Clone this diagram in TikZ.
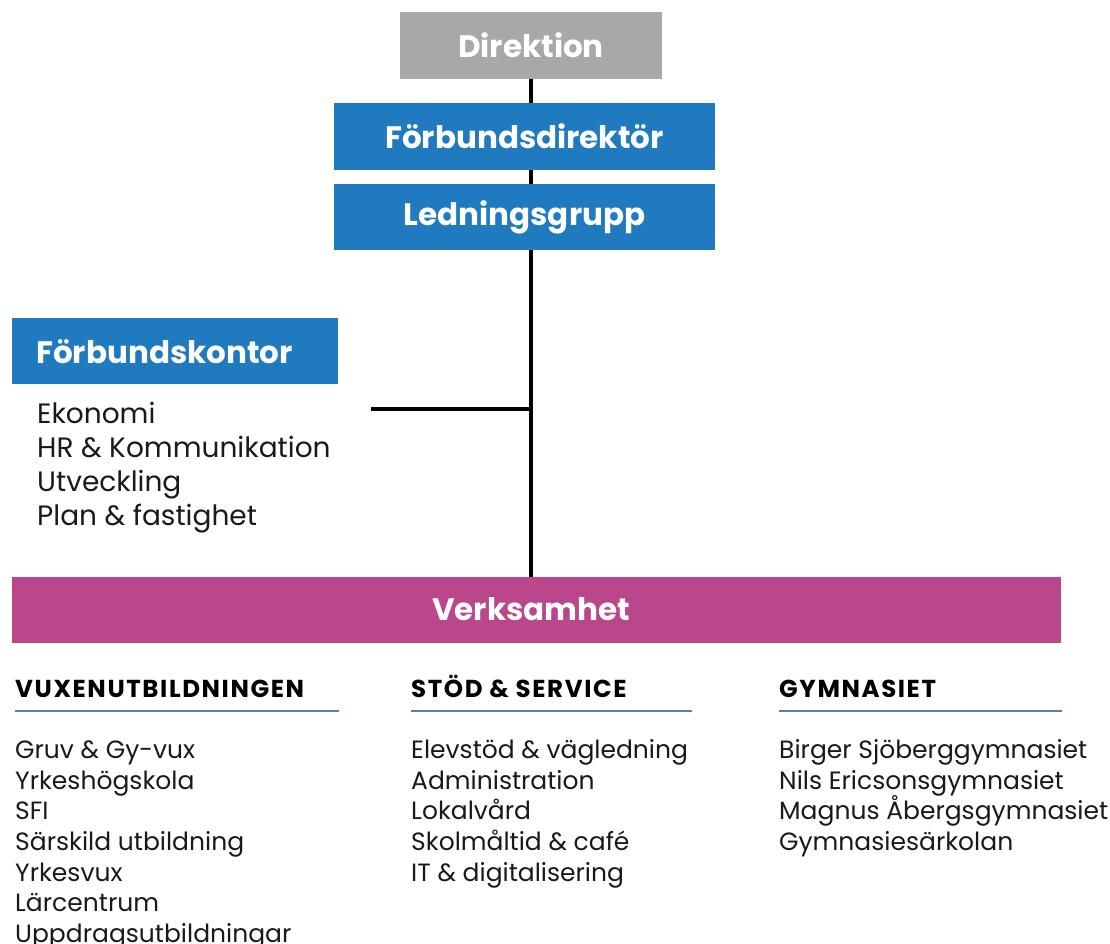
\documentclass[tikz,border=0pt]{standalone}
\usepackage{fontspec}
\setmainfont{Poppins}
\definecolor{dirgray}{HTML}{A8A8A8}
\definecolor{orgblue}{HTML}{1F7AC0}
\definecolor{verkpink}{HTML}{BA468B}
\definecolor{lineblue}{HTML}{4F81BD}
\tikzset{
  boxtext/.style={inner sep=0pt, text=white, font=\fontsize{31}{36}\selectfont\bfseries},
  box/.style={fill=#1, draw=none, boxtext},
  conn/.style={line width=3.5pt, black},
  item/.style={anchor=base west, inner sep=0pt, font=\fontsize{25}{30}\selectfont, text=black!90},
  fkitem/.style={item, font=\fontsize{28}{34}\selectfont},
  head/.style={anchor=base west, inner sep=0pt, font=\fontsize{24.5}{28}\selectfont\bfseries\addfontfeature{LetterSpace=6.5}},
  uline/.style={line width=2.5pt, lineblue}
}
\begin{document}
\begin{tikzpicture}[x=1pt,y=-1pt]
\useasboundingbox (0,0) rectangle (1110,944);
% boxes
\node[box=dirgray, minimum width=262pt, minimum height=67pt] (dir) at (531,45.5) {Direktion};
\node[box=orgblue, minimum width=381pt, minimum height=67pt] (fd) at (524.5,136.5) {Förbundsdirektör};
\node[box=orgblue, minimum width=381pt, minimum height=66pt] (lg) at (524.5,217) {Ledningsgrupp};
\node[box=orgblue, minimum width=326pt, minimum height=66pt] (fk) at (175,351) {};
\node[boxtext, anchor=base west] (fkt) at (36,363) {Förbundskontor};
\node[box=verkpink, minimum width=1049pt, minimum height=66pt] (verk) at (536.5,610) {};
\node[boxtext, anchor=base] (verkt) at (531,620) {Verksamhet};
% connectors
\coordinate (fkend) at (371,409);
\draw[conn] (dir.south) -- (dir.south |- fd.north);
\draw[conn] (dir.south |- fd.south) -- (dir.south |- lg.north);
\draw[conn] (dir.south |- lg.south) -- (dir.south |- verk.north);
\draw[conn] (fkend) -- (dir.south |- fkend);
% Förbundskontor list
\node[fkitem] (fk1) at (37,423) {Ekonomi};
\node[fkitem] (fk2) at (37,457) {HR \& Kommunikation};
\node[fkitem] (fk3) at (37,491) {Utveckling};
\node[fkitem] (fk4) at (37,525) {Plan \& fastighet};
% headings
\node[head] (h1) at (15,697) {VUXENUTBILDNINGEN};
\node[head] (h2) at (411,697) {STÖD \& SERVICE};
\node[head] (h3) at (779,697) {GYMNASIET};
\draw[uline] (15,711) -- (339,711);
\draw[uline] (411,711) -- (692,711);
\draw[uline] (779,711) -- (1062,711);
% lists
\node[item] (v1) at (15,758) {Gruv \& Gy-vux};
\node[item] (v2) at (15,789) {Yrkeshögskola};
\node[item] (v3) at (15,819) {SFI};
\node[item] (v4) at (15,850) {Särskild utbildning};
\node[item] (v5) at (15,881) {Yrkesvux};
\node[item] (v6) at (15,911) {Lärcentrum};
\node[item] (v7) at (15,942) {Uppdragsutbildningar};
\node[item] (s1) at (411,758) {Elevstöd \& vägledning};
\node[item] (s2) at (411,789) {Administration};
\node[item] (s3) at (411,819) {Lokalvård};
\node[item] (s4) at (411,850) {Skolmåltid \& café};
\node[item] (s5) at (411,881) {IT \& digitalisering};
\node[item] (g1) at (779,758) {Birger Sjöberggymnasiet};
\node[item] (g2) at (779,789) {Nils Ericsonsgymnasiet};
\node[item] (g3) at (779,819) {Magnus Åbergsgymnasiet};
\node[item] (g4) at (779,850) {Gymnasiesärkolan};
\end{tikzpicture}
\end{document}
